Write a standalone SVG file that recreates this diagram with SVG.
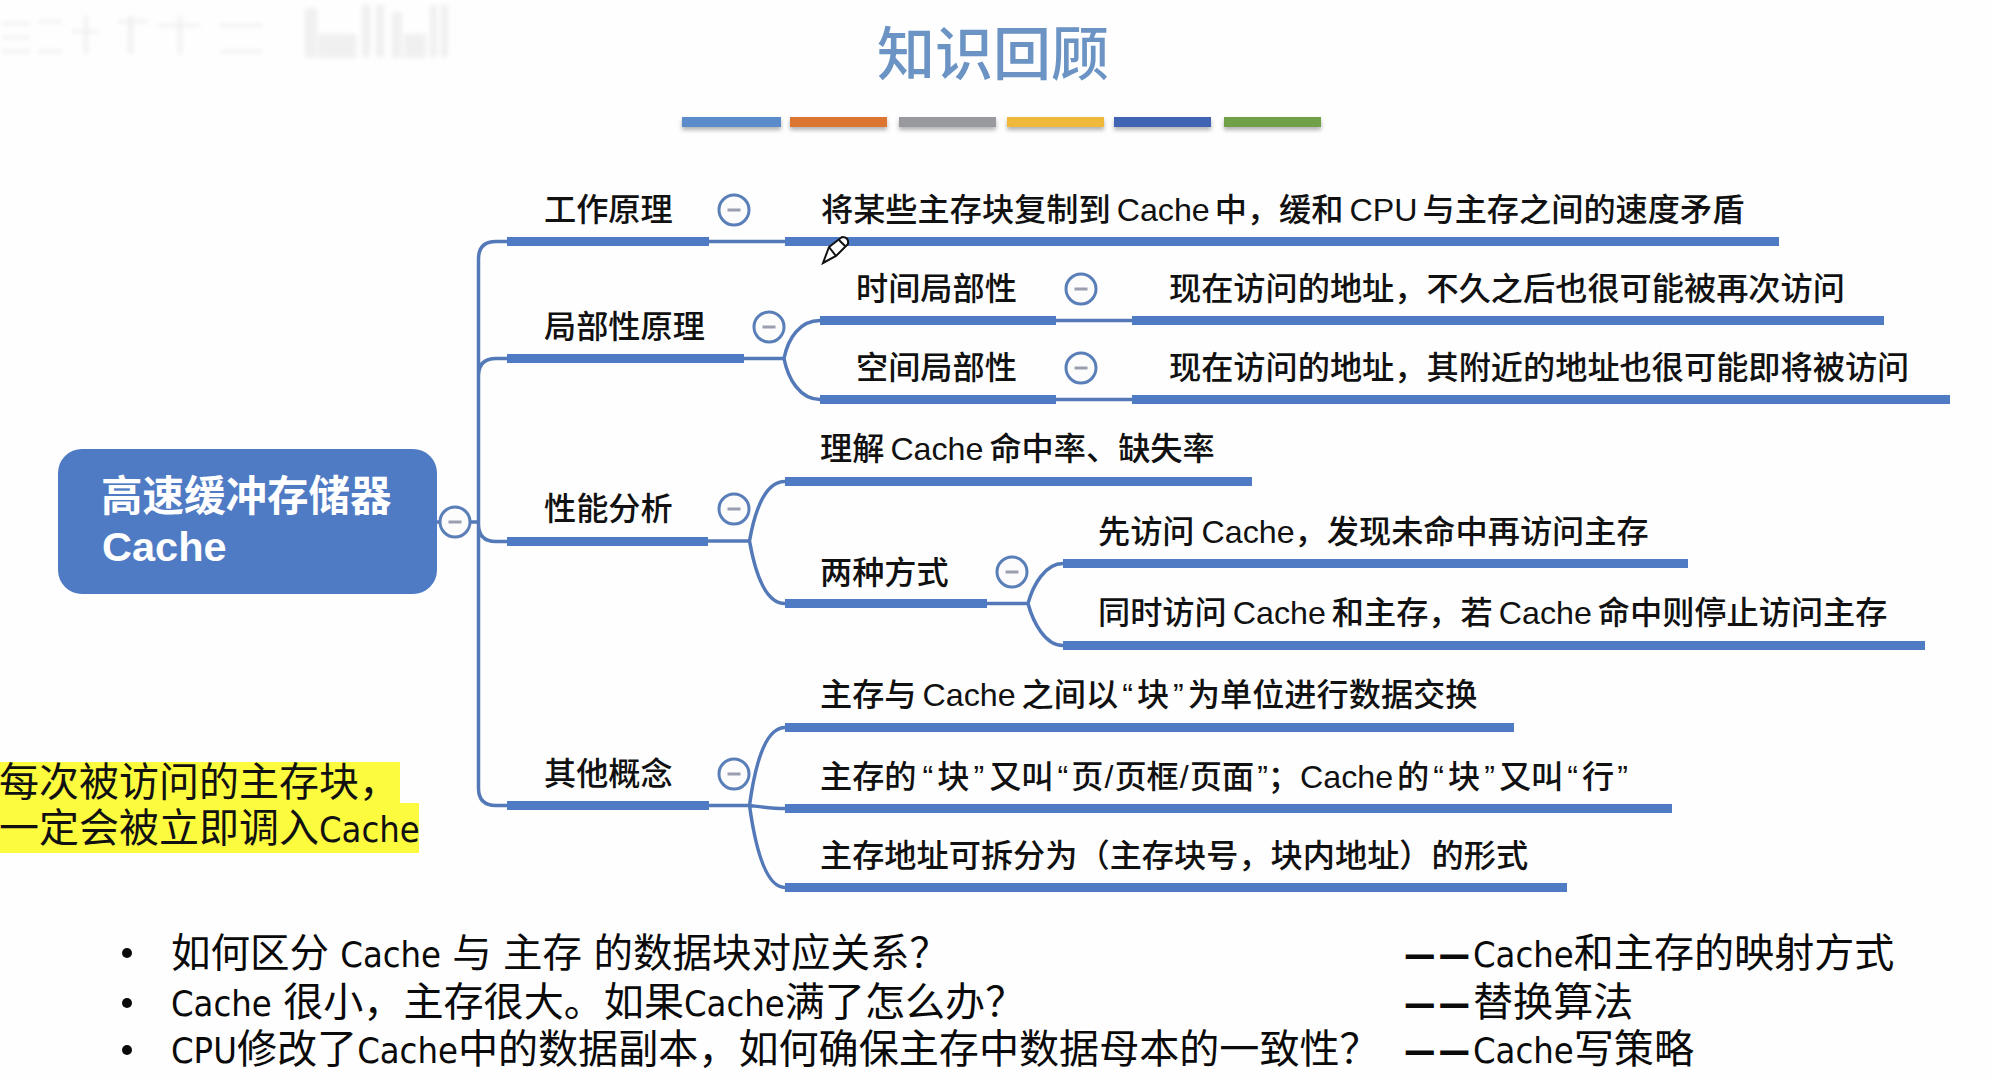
<svg xmlns="http://www.w3.org/2000/svg" width="1990" height="1079" viewBox="0 0 1990 1079">
<defs>
<style>
text{font-family:"Liberation Sans","Noto Sans CJK SC",sans-serif;fill:#111}
.n{font-size:32.200px;font-weight:500}
.q{font-family:"DejaVu Sans Condensed","Noto Sans CJK SC",sans-serif;font-size:40.100px;fill:#0a0a0a}
.l{font-family:"DejaVu Sans Condensed","DejaVu Sans",sans-serif;font-stretch:condensed;font-size:36px}
.d{font-family:"DejaVu Sans Condensed","DejaVu Sans",sans-serif;font-stretch:condensed;font-size:35px;font-weight:700;letter-spacing:3px}
.bar{fill:#4f7bc4}
.thin{fill:none;stroke:#5479b8;stroke-width:3.5}
.c circle{fill:#fcfcfd;stroke:#5a7fb8;stroke-width:3}
.c rect{fill:#9a9fb0}
</style>
<filter id="sh" x="-5%" y="-50%" width="110%" height="220%"><feDropShadow dx="0" dy="3" stdDeviation="2" flood-color="#000" flood-opacity=".3"/></filter>
<filter id="bl" x="-10%" y="-10%" width="120%" height="120%"><feGaussianBlur stdDeviation="2"/></filter>
<g id="toggle" class="c"><circle r="15"/><rect x="-6.5" y="-1.5" width="13" height="3"/></g>
</defs>
<rect width="1990" height="1079" fill="#fefefe"/>
<g id="watermark" filter="url(#bl)" fill="#f0f0f0">
<rect x="305" y="8" width="12" height="50"/><rect x="318" y="34" width="38" height="24"/><rect x="362" y="5" width="8" height="52"/><rect x="376" y="5" width="8" height="52"/><rect x="392" y="12" width="10" height="46"/><rect x="404" y="34" width="22" height="24"/><rect x="430" y="5" width="7" height="52"/><rect x="441" y="5" width="7" height="52"/>
<rect x="2" y="22" width="28" height="3"/><rect x="2" y="36" width="28" height="3"/><rect x="2" y="50" width="28" height="3"/><rect x="38" y="20" width="24" height="3"/><rect x="38" y="50" width="24" height="3"/><rect x="84" y="16" width="4" height="38"/><rect x="72" y="30" width="26" height="3"/><rect x="128" y="16" width="5" height="38"/><rect x="118" y="20" width="30" height="3"/><rect x="158" y="24" width="42" height="3"/><rect x="178" y="16" width="4" height="38"/><rect x="220" y="24" width="42" height="3"/><rect x="220" y="50" width="42" height="3"/>
</g>
<text id="title" x="877" y="75" font-size="58" font-weight="500" style="fill:#6b93c4;font-family:'Noto Sans CJK SC',sans-serif">知识回顾</text>
<g id="title-rule" filter="url(#sh)">
<rect x="682" y="117" width="99" height="10" fill="#5b8bcb"/><rect x="790" y="117" width="97" height="10" fill="#dd7431"/><rect x="899" y="117" width="97" height="10" fill="#999aa0"/><rect x="1007" y="117" width="97" height="10" fill="#efb93a"/><rect x="1114" y="117" width="97" height="10" fill="#3f63b4"/><rect x="1224" y="117" width="97" height="10" fill="#6fa046"/>
</g>
<g id="connectors">
<path class="thin" d="M437,522H442M470,522H478.500M507,241.500H496Q478.500,241.500 478.500,259V788Q478.500,805.500 496,805.500H507M507,358.500H496Q478.500,358.500 478.500,376M507,541.500H496Q478.500,541.500 478.500,524"/>
<path class="thin" d="M709,241.500H785M744,358.500H784M784,358.500C788,338 800,320.500 820,320.500M784,358.500C788,379 800,399.500 820,399.500M1056,320.500H1132M1056,399.500H1132"/>
<path class="thin" d="M708,541H749.500M749.500,541C755,510 765,481.500 785,481.500M749.500,541C755,572 765,603.500 785,603.500M987,603.500H1028M1028,603.500C1033,585 1045,563.500 1063,563.500M1028,603.500C1033,622 1045,645.500 1063,645.500"/>
<path class="thin" d="M709,805.500H749.500M749.500,805.500C755,765 765,727.500 785,727.500M749.500,805.500C762,807 772,808.500 785,808.500M749.500,805.500C755,845 765,887.500 785,887.500"/>
</g>
<g id="root"><rect x="58" y="449" width="379" height="145" rx="24" fill="#4f7bc4"/>
<text x="101" y="511" font-size="41.500" font-weight="700" style="fill:#fff">高速缓冲存储器</text>
<text x="102" y="561" font-size="41.500" font-weight="700" style="fill:#fff">Cache</text>
<use href="#toggle" x="455" y="522"/></g>
<g id="n1"><rect class="bar" x="507" y="237" width="202" height="9"/><text class="n" x="544" y="221">工作原理</text><use href="#toggle" x="734" y="210"/></g>
<g id="n1a"><rect class="bar" x="785" y="237" width="994" height="9"/><text class="n" x="821" y="221">将某些主存块复制到<tspan dx="6">Cache</tspan><tspan dx="5">中，缓和</tspan><tspan dx="6">CPU</tspan><tspan dx="5">与主存之间的速度矛盾</tspan></text></g>
<g id="n2"><rect class="bar" x="507" y="354" width="237" height="9"/><text class="n" x="544" y="338">局部性原理</text><use href="#toggle" x="769" y="327"/></g>
<g id="n2a"><rect class="bar" x="820" y="316" width="236" height="9"/><text class="n" x="856" y="300">时间局部性</text><use href="#toggle" x="1081" y="289"/></g>
<g id="n2a1"><rect class="bar" x="1132" y="316" width="752" height="9"/><text class="n" x="1169" y="300">现在访问的地址，不久之后也很可能被再次访问</text></g>
<g id="n2b"><rect class="bar" x="820" y="395" width="236" height="9"/><text class="n" x="856" y="379">空间局部性</text><use href="#toggle" x="1081" y="368"/></g>
<g id="n2b1"><rect class="bar" x="1132" y="395" width="818" height="9"/><text class="n" x="1169" y="379">现在访问的地址，其附近的地址也很可能即将被访问</text></g>
<g id="n3"><rect class="bar" x="507" y="537" width="201" height="9"/><text class="n" x="544" y="520">性能分析</text><use href="#toggle" x="734" y="509"/></g>
<g id="n3a"><rect class="bar" x="785" y="477" width="467" height="9"/><text class="n" x="820" y="460">理解<tspan dx="6">Cache</tspan><tspan dx="6">命中率、缺失率</tspan></text></g>
<g id="n3b"><rect class="bar" x="785" y="599" width="202" height="9"/><text class="n" x="820" y="584">两种方式</text><use href="#toggle" x="1012" y="572"/></g>
<g id="n3b1"><rect class="bar" x="1063" y="559" width="625" height="9"/><text class="n" x="1098" y="543">先访问<tspan dx="7">Cache</tspan>，发现未命中再访问主存</text></g>
<g id="n3b2"><rect class="bar" x="1063" y="641" width="862" height="9"/><text class="n" x="1098" y="624">同时访问<tspan dx="6">Cache</tspan><tspan dx="6">和主存，若</tspan><tspan dx="6">Cache</tspan><tspan dx="6">命中则停止访问主存</tspan></text></g>
<g id="n4"><rect class="bar" x="507" y="801" width="202" height="9"/><text class="n" x="544" y="785">其他概念</text><use href="#toggle" x="734" y="774"/></g>
<g id="n4a"><rect class="bar" x="785" y="723" width="729" height="9"/><text class="n" x="820" y="706">主存与<tspan dx="6">Cache</tspan><tspan dx="6">之间以</tspan><tspan dx="4">“</tspan><tspan dx="4">块</tspan><tspan dx="4">”</tspan><tspan dx="4">为单位进行数据交换</tspan></text></g>
<g id="n4b"><rect class="bar" x="785" y="804" width="887" height="9"/><text class="n" x="820" y="788">主存的<tspan dx="6">“</tspan><tspan dx="4">块</tspan><tspan dx="4">”</tspan><tspan dx="5">又叫</tspan><tspan dx="4">“</tspan><tspan dx="3">页</tspan><tspan dx="1">/</tspan><tspan dx="1">页框</tspan><tspan dx="1">/</tspan><tspan dx="1">页面</tspan><tspan dx="3">”</tspan>；<tspan>Cache</tspan><tspan dx="4">的</tspan><tspan dx="4">“</tspan><tspan dx="4">块</tspan><tspan dx="4">”</tspan><tspan dx="4">又叫</tspan><tspan dx="4">“</tspan><tspan dx="4">行</tspan><tspan dx="3">”</tspan></text></g>
<g id="n4c"><rect class="bar" x="785" y="883" width="782" height="9"/><text class="n" x="820" y="867">主存地址可拆分为（主存块号，块内地址）的形式</text></g>
<g id="note">
<rect x="0" y="762" width="400" height="42" fill="#fdfb3e"/><rect x="0" y="803" width="419" height="50" fill="#fdfb3e"/>
<text style="font-family:'DejaVu Sans Condensed','Noto Sans CJK SC',sans-serif" font-size="40"><tspan x="-1" y="796">每次被访问的主存块，</tspan><tspan x="-1" y="842">一定会被立即调入<tspan class="l">Cache</tspan></tspan></text>
</g>
<g id="questions">
<circle cx="127" cy="953" r="5" fill="#0a0a0a"/><circle cx="127" cy="1003" r="5" fill="#0a0a0a"/><circle cx="127" cy="1050" r="5" fill="#0a0a0a"/>
<text class="q"><tspan x="171" y="967" font-size="39.500">如何区分 <tspan class="l">Cache</tspan> 与 主存 的数据块对应关系？</tspan><tspan x="171" y="1016"><tspan class="l">Cache</tspan> 很小，主存很大。如果<tspan class="l">Cache</tspan>满了怎么办？</tspan><tspan x="171" y="1063"><tspan class="l">CPU</tspan>修改了<tspan class="l">Cache</tspan>中的数据副本，如何确保主存中数据母本的一致性？</tspan></text>
<text class="q"><tspan x="1404" y="967"><tspan class="d">——</tspan><tspan class="l">Cache</tspan>和主存的映射方式</tspan><tspan x="1404" y="1016"><tspan class="d">——</tspan>替换算法</tspan><tspan x="1404" y="1063"><tspan class="d">——</tspan><tspan class="l">Cache</tspan>写策略</tspan></text>
</g>
<g id="pencil" fill="#fff" stroke="#111" stroke-width="2"><path d="M823,263L829,247L842,237Q849,237 848,244L836,256Z"/><path d="M829,247L836,256M839,240L845,246" fill="none"/></g>
</svg>
